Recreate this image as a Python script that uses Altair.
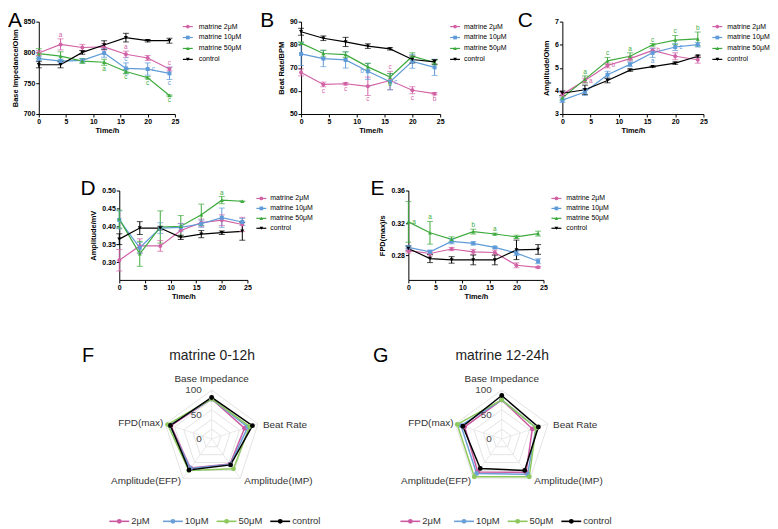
import altair as alt
import pandas as pd

FONT = "Liberation Sans"
NOVIEW = alt.ViewBackground(stroke="transparent", strokeWidth=0)

times = [0, 4, 8, 12, 16, 20, 24]
series = ["matrine 2μM", "matrine 10μM", "matrine 50μM", "control"]
colors = ["#D262A6", "#5F9BD8", "#3DAA3D", "#000000"]
shapes = ["circle", "square", "triangle-up", "triangle-down"]

# ---- Panel A: Base Impedance/Ohm ----
A_2 = [799, 813, 808, 809, 797, 791, 773]
A_2e = [4, 9, 5, 5, 5, 4, 3]
A_10 = [790, 786, 787, 799, 774, 773, 766]
A_10e = [3, 3, 3, 7, 9, 10, 10]
A_50 = [798, 794, 786, 784, 769, 759, 730]
A_50e = [8, 7, 4, 5, 3, 2, 1]
A_c = [780, 780, 800, 812, 824, 819, 819]
A_ce = [5, 5, 3, 7, 7, 2, 4]
A_ann = [(0, 4, "a", "above"), (0, 16, "a", "above"), (1, 16, "c", "above"), (2, 16, "c", "below"),
         (1, 20, "c", "right"), (2, 20, "c", "below"), (0, 24, "c", "above"), (1, 24, "c", "below"),
         (2, 24, "c", "below"), (2, 12, "a", "below")]

# ---- Panel B: Beat Rate/BPM ----
B_2 = [68, 62.8, 63.1, 62, 64.5, 60.3, 58.8]
B_2e = [1.5, 1, 0.5, 4, 4, 1.5, 0.5]
B_10 = [76, 74, 73.4, 68.5, 64, 72.8, 70.2]
B_10e = [5, 3.5, 3.5, 3.5, 3.5, 3, 3.5]
B_50 = [80.7, 76.2, 75.7, 70.4, 66, 75, 72.3]
B_50e = [0.5, 1.5, 1.2, 1.5, 1.5, 1.5, 1]
B_c = [85.6, 82.8, 81.2, 79.4, 78.2, 73.6, 72.6]
B_ce = [1.5, 1, 2, 1, 0.5, 1.5, 1]
B_ann = [(0, 4, "c", "below"), (0, 8, "c", "below"), (0, 12, "c", "below"), (1, 12, "b", "left"),
         (0, 16, "c", "above"), (1, 16, "c", "right"), (2, 16, "b", "below"), (0, 20, "c", "below"),
         (0, 24, "b", "below")]

# ---- Panel C: Amplitude/Ohm ----
C_2 = [3.85, 4.45, 5.1, 5.4, 5.75, 5.5, 5.35]
C_2e = [0.08, 0.1, 0.1, 0.1, 0.1, 0.15, 0.15]
C_10 = [3.6, 3.95, 4.7, 5.15, 5.65, 5.9, 6.0]
C_10e = [0.1, 0.15, 0.15, 0.1, 0.2, 0.15, 0.1]
C_50 = [3.7, 4.5, 5.3, 5.5, 6.0, 6.2, 6.25]
C_50e = [0.1, 0.15, 0.15, 0.15, 0.05, 0.2, 0.3]
C_c = [3.9, 4.05, 4.45, 4.9, 5.05, 5.2, 5.5]
C_ce = [0.1, 0.2, 0.1, 0.05, 0.03, 0.05, 0.05]
C_ann = [(2, 4, "a", "above"), (0, 4, "a", "right"), (2, 8, "c", "above"), (0, 8, "b", "right"),
         (2, 12, "a", "above"), (2, 16, "c", "above"), (0, 16, "b", "right"), (1, 16, "a", "below"),
         (2, 20, "c", "above"), (1, 20, "c", "right"), (2, 24, "b", "above")]

# ---- Panel D: Amplitude/mV ----
D_2 = [0.305, 0.345, 0.345, 0.388, 0.410, 0.417, 0.405]
D_2e = [0.03, 0.02, 0.015, 0.02, 0.01, 0.015, 0.02]
D_10 = [0.418, 0.34, 0.395, 0.397, 0.407, 0.424, 0.412]
D_10e = [0.025, 0.015, 0.015, 0.01, 0.01, 0.027, 0.01]
D_50 = [0.42, 0.323, 0.398, 0.40, 0.432, 0.473, 0.47]
D_50e = [0.025, 0.035, 0.045, 0.03, 0.03, 0.01, 0.0]
D_c = [0.364, 0.395, 0.395, 0.369, 0.378, 0.382, 0.386]
D_ce = [0.015, 0.018, 0.005, 0.006, 0.01, 0.005, 0.025]
D_ann = [(2, 20, "a", "above")]

# ---- Panel E: FPD(max)/s ----
E_2 = [0.286, 0.2825, 0.288, 0.2846, 0.2837, 0.268, 0.2655]
E_2e = [0.003, 0.003, 0.002, 0.003, 0.003, 0.003, 0.001]
E_10 = [0.290, 0.2846, 0.2974, 0.295, 0.290, 0.283, 0.273]
E_10e = [0.002, 0.002, 0.003, 0.002, 0.001, 0.003, 0.003]
E_50 = [0.3214, 0.308, 0.300, 0.3094, 0.3065, 0.303, 0.307]
E_50e = [0.025, 0.014, 0.003, 0.003, 0.001, 0.002, 0.003]
E_c = [0.2887, 0.2763, 0.2746, 0.2746, 0.2746, 0.287, 0.2875]
E_ce = [0.003, 0.005, 0.004, 0.006, 0.006, 0.012, 0.006]
E_ann = [(2, 0, "a", "right"), (2, 4, "a", "above"), (2, 12, "b", "above"), (2, 16, "a", "above")]

# ---- Radar panels F / G (normalised, 0-100) ----
radar_axes = ["Base Impedance", "Beat Rate", "Amplitude(IMP)", "Amplitude(EFP)", "FPD(max)"]
radar_series = ["2μM", "10μM", "50μM", "control"]
radar_colors = ["#CC5AA2", "#6A9FD8", "#8DC85E", "#000000"]
radar_ticks = [0, 50, 100]
radar_grid = [20, 40, 60, 80, 100]
F_2 = [82, 71, 64, 74, 88]
F_10 = [82, 78, 65, 75, 91]
F_50 = [82, 82, 76, 80, 95]
F_c = [85, 88, 66, 79, 89]
G_2 = [80, 66, 85, 84, 80]
G_10 = [80, 74, 90, 88, 88]
G_50 = [80, 74, 96, 96, 96]
G_c = [89, 79, 80, 75, 84]

AX = dict(labelFont=FONT, titleFont=FONT, labelFontSize=7, titleFontSize=7.5,
          labelFontWeight="bold", titleFontWeight="bold", labelColor="black",
          titleColor="black", domainColor="black", tickColor="black", domainWidth=1,
          tickWidth=1, tickSize=3, labelPadding=1, grid=False, labelFlush=False,
          labelOverlap=False)


def long_df(means, errs):
    rows = []
    for s, m, e in zip(series, means, errs):
        for t, v, ee in zip(times, m, e):
            rows.append(dict(series=s, time=t, value=v, err=ee, lo=v - ee, hi=v + ee))
    return pd.DataFrame(rows)


def ann_df(df, anns):
    rows = []
    for si, t, letter, side in anns:
        r = df[(df.series == series[si]) & (df.time == t)].iloc[0]
        y = r.hi if side == "above" else (r.lo if side == "below" else r.value)
        rows.append(dict(series=series[si], time=t, y=y, letter=letter, side=side))
    return pd.DataFrame(rows)


def ts_panel(letter, means, errs, anns, ydom, yticks, ytitle, fmt, w, h, ldx):
    df = long_df(means, errs)
    xs = alt.Scale(domain=[0, 25], nice=False, zero=False)
    ys = alt.Scale(domain=ydom, nice=False, zero=False)
    xax = alt.Axis(values=[0, 5, 10, 15, 20, 25], title="Time/h", titlePadding=2, **AX)
    yax = alt.Axis(values=yticks, title=ytitle, format=fmt, titlePadding=4, **AX)
    X = alt.X("time:Q", scale=xs, axis=xax)
    col = alt.Color("series:N", scale=alt.Scale(domain=series, range=colors), legend=None)

    def Y(f):
        return alt.Y(f + ":Q", scale=ys, axis=yax)

    base = alt.Chart(df)
    layers = [
        base.mark_line(strokeWidth=1.2).encode(X, Y("value"), col),
        base.mark_rule(strokeWidth=1).encode(X, Y("lo"), alt.Y2("hi:Q"), col),
        base.mark_tick(orient="horizontal", size=6, thickness=1).encode(X, Y("lo"), col),
        base.mark_tick(orient="horizontal", size=6, thickness=1).encode(X, Y("hi"), col),
        base.mark_point(filled=True, size=16, opacity=1).encode(
            X, Y("value"), col,
            alt.Shape("series:N", scale=alt.Scale(domain=series, range=shapes), legend=None)),
    ]
    adf = ann_df(df, anns)
    props = {
        "above": dict(baseline="bottom", dy=-1),
        "below": dict(baseline="top", dy=1),
        "right": dict(align="left", baseline="middle", dx=4),
        "left": dict(align="right", baseline="middle", dx=-4),
    }
    for side, p in props.items():
        sub = adf[adf.side == side]
        if len(sub):
            layers.append(alt.Chart(sub).mark_text(fontSize=6.5, font=FONT, **p).encode(
                X, Y("y"), col, text="letter:N"))
    return alt.layer(*layers).properties(
        width=w, height=h, view=NOVIEW,
        title=alt.Title(letter, anchor="start", frame="group", dx=ldx, dy=22, offset=-8,
                        fontSize=21, fontWeight="normal", font=FONT, color="black",
                        baseline="alphabetic"))


def vlegend(w, h, r0, r1, mx, tx):
    ldf = pd.DataFrame({"series": series})
    Yl = alt.Y("series:N", scale=alt.Scale(type="point", domain=series, range=[r0, r1], padding=0),
               axis=None)
    col = alt.Color("series:N", scale=alt.Scale(domain=series, range=colors), legend=None)
    base = alt.Chart(ldf).encode(y=Yl)
    line = base.mark_point(shape="M-1,0L1,0", size=100, strokeWidth=1.2, filled=False,
                           opacity=1).encode(x=alt.value(mx), color=col)
    pts = base.mark_point(filled=True, size=14, opacity=1).encode(
        x=alt.value(mx), color=col,
        shape=alt.Shape("series:N", scale=alt.Scale(domain=series, range=shapes), legend=None))
    txt = base.mark_text(align="left", baseline="middle", fontSize=7, font=FONT,
                         color="black").encode(x=alt.value(tx), text="series:N")
    return alt.layer(line, pts, txt).properties(width=w, height=h, view=NOVIEW)


def spacer(w, h):
    return alt.Chart(pd.DataFrame({"a": [0]})).mark_point(opacity=0, size=1).encode(
        x=alt.value(0), y=alt.value(0)).properties(width=w, height=h, view=NOVIEW)


def radar(letter, title, vals, ldx):
    rows = []
    for s, v in zip(radar_series, vals):
        for i in range(6):
            rows.append(dict(dose=s, idx=i, value=v[i % 5]))
    df = pd.DataFrame(rows)
    xs = alt.Scale(domain=[-204, 204], nice=False, zero=False)
    ys = alt.Scale(domain=[-153, 153], nice=False, zero=False)
    xax = alt.Axis(orient="top", title=title, titleX=100, titleY=-5, titleAlign="center",
                   titleBaseline="alphabetic", titleFontSize=14, titleFontWeight="normal",
                   titleFont=FONT, titleColor="#222222", labels=False, ticks=False,
                   domain=False, grid=False)
    yax = alt.Axis(orient="left", title=letter, titleX=ldx, titleY=-3, titleAngle=0,
                   titleAlign="left", titleBaseline="alphabetic", titleFontSize=20,
                   titleFontWeight="normal", titleFont=FONT, titleColor="black",
                   labels=False, ticks=False, domain=False, grid=False)
    X = alt.X("x:Q", scale=xs, axis=xax)
    Y = alt.Y("y:Q", scale=ys, axis=yax)
    xcalc = "datum.r * sin(2 * PI * datum.idx / 5)"
    ycalc = "datum.r * cos(2 * PI * datum.idx / 5)"

    grid_rows = [dict(r=g, idx=i) for g in radar_grid for i in range(6)]
    grid = alt.Chart(pd.DataFrame(grid_rows)).transform_calculate(x=xcalc, y=ycalc).mark_line(
        color="#dddddd", strokeWidth=0.8).encode(X, Y, detail="r:N", order="idx:Q")
    spoke_rows = [dict(r=radar_grid[-1], idx=i) for i in range(5)]
    spokes = alt.Chart(pd.DataFrame(spoke_rows)).transform_calculate(
        xe=xcalc, ye=ycalc, x="0", y="0").mark_rule(color="#e4e4e4", strokeWidth=0.8).encode(
        X, Y, x2="xe:Q", y2="ye:Q")

    col = alt.Color("dose:N", scale=alt.Scale(domain=radar_series, range=radar_colors), legend=None)
    sdf = alt.Chart(df).transform_calculate(r="datum.value").transform_calculate(x=xcalc, y=ycalc)
    lines = sdf.mark_line(strokeWidth=1.5).encode(X, Y, col, order="idx:Q")
    pts = sdf.transform_filter("datum.idx < 5").mark_point(filled=True, size=24, opacity=1).encode(X, Y, col)

    ticks_df = pd.DataFrame({"t": radar_ticks})
    tlab = alt.Chart(ticks_df).transform_calculate(x="0", y="datum.t").mark_text(
        align="right", baseline="middle", dx=-10, fontSize=10, font=FONT, color="#444444").encode(
        X, Y, text="t:Q")

    lab_df = pd.DataFrame({"label": radar_axes, "idx": list(range(5)), "r": [100] * 5})
    lab_base = alt.Chart(lab_df).transform_calculate(x=xcalc, y=ycalc)
    lstyle = dict(fontSize=10, font=FONT, color="#333333")
    labs = [
        lab_base.transform_filter("datum.idx == 0").mark_text(align="center", baseline="alphabetic", dy=-8, **lstyle),
        lab_base.transform_filter("datum.idx == 1").mark_text(align="left", baseline="middle", dx=5, dy=1, **lstyle),
        lab_base.transform_filter("datum.idx == 2").mark_text(align="left", baseline="middle", dx=4, dy=3, **lstyle),
        lab_base.transform_filter("datum.idx == 3").mark_text(align="right", baseline="middle", dx=-2, dy=3, **lstyle),
        lab_base.transform_filter("datum.idx == 4").mark_text(align="right", baseline="middle", dx=-2, dy=-1, **lstyle),
    ]
    labs = [l.encode(X, Y, text="label:N") for l in labs]
    return alt.layer(grid, spokes, lines, pts, tlab, *labs).properties(
        width=200, height=150, view=NOVIEW)


def radar_legend():
    ldf = pd.DataFrame({"dose": radar_series})
    Xl = alt.X("dose:N", scale=alt.Scale(type="point", domain=radar_series, range=[20, 182],
                                         padding=0), axis=None)
    col = alt.Color("dose:N", scale=alt.Scale(domain=radar_series, range=radar_colors), legend=None)
    base = alt.Chart(ldf).encode(x=Xl, y=alt.value(5))
    line = base.mark_point(shape="M-1,0L1,0", size=400, strokeWidth=1.6, filled=False, opacity=1).encode(color=col)
    dot = base.mark_point(shape="circle", filled=True, size=24, opacity=1).encode(color=col)
    txt = base.mark_text(align="left", baseline="middle", dx=12, fontSize=9.5, font=FONT,
                         color="#333333").encode(text="dose:N")
    return alt.layer(line, dot, txt).properties(width=230, height=10, view=NOVIEW)


A = ts_panel("A", [A_2, A_10, A_50, A_c], [A_2e, A_10e, A_50e, A_ce], A_ann, [700, 850],
             [700, 750, 800, 850], "Base Impedance/Ohm", "d", 137, 93, -31)
B = ts_panel("B", [B_2, B_10, B_50, B_c], [B_2e, B_10e, B_50e, B_ce], B_ann, [50, 90],
             [50, 60, 70, 80, 90], "Beat Rate/BPM", "d", 140, 93, -41)
C = ts_panel("C", [C_2, C_10, C_50, C_c], [C_2e, C_10e, C_50e, C_ce], C_ann, [3, 7],
             [3, 4, 5, 6, 7], "Amplitude/Ohm", "d", 142, 93, -45)
D = ts_panel("D", [D_2, D_10, D_50, D_c], [D_2e, D_10e, D_50e, D_ce], D_ann, [0.25, 0.5],
             [0.30, 0.35, 0.40, 0.45, 0.50], "Amplitude/mV", ".2f", 129, 90, -39)
E = ts_panel("E", [E_2, E_10, E_50, E_c], [E_2e, E_10e, E_50e, E_ce], E_ann, [0.25, 0.36],
             [0.28, 0.32, 0.36], "FPD(max)/s", ".2f", 136, 90, -38)

F = radar("F", "matrine 0-12h", [F_2, F_10, F_50, F_c], -31)
G = radar("G", "matrine 12-24h", [G_2, G_10, G_50, G_c], -30)

IND = dict(color="independent", shape="independent")

# rows of a flush layout count as zero height, so each vertical spacer holds
# the previous row's height plus the gap to the next row
row1 = alt.hconcat(A, vlegend(127, 44, 5, 38, 13, 24), B, vlegend(123, 44, 5, 38, 15, 24),
                   C, vlegend(60, 44, 5, 38, 14, 24), spacing=0, bounds="flush"
                   ).resolve_scale(**IND)
row2 = alt.hconcat(spacer(81, 90), D, vlegend(162, 44, 8, 38, 14, 23), E,
                   vlegend(60, 44, 8, 38, 13, 23), spacing=0, bounds="flush"
                   ).resolve_scale(**IND)
row3 = alt.hconcat(spacer(74, 150), F, spacer(92, 150), G, spacing=0, bounds="flush"
                   ).resolve_scale(**IND)
row4 = alt.hconcat(spacer(61, 10), radar_legend(), spacer(63, 10), radar_legend(),
                   spacing=0, bounds="flush").resolve_scale(**IND)

chart = alt.vconcat(row1, spacer(1, 170), row2, spacer(1, 175), row3, spacer(1, 153), row4,
                    spacing=0, bounds="flush").resolve_scale(**IND).properties(
    padding=0).configure_view(stroke="transparent", strokeWidth=0).configure(
    font=FONT, background="white",
    style={"cell": {"stroke": "transparent", "strokeWidth": 0}})

chart.save("out.html", embed_options={"renderer": "svg", "actions": False})
